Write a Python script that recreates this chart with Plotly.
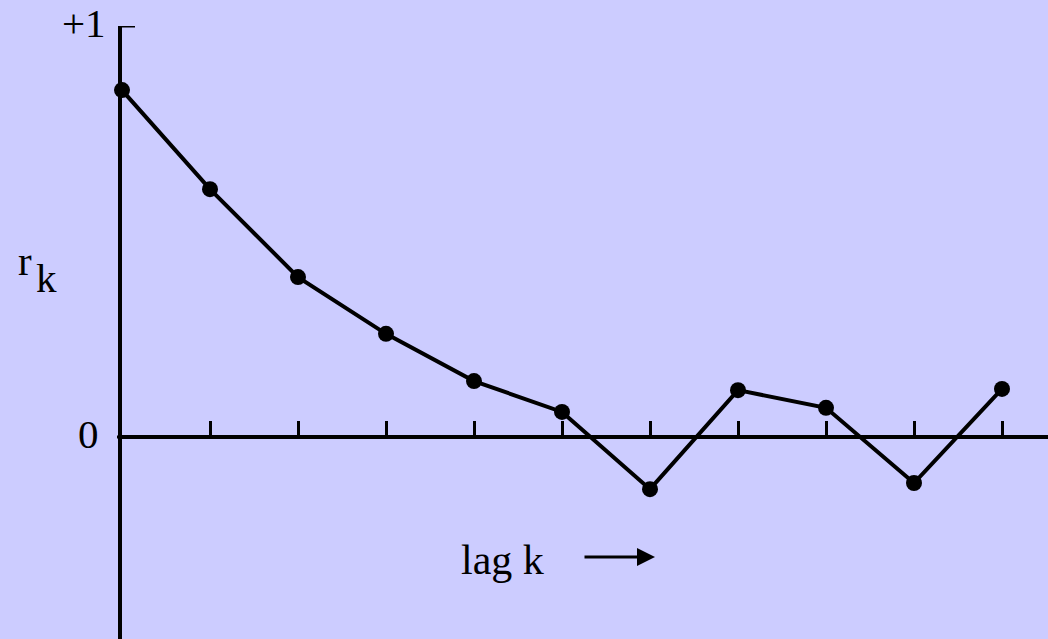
import plotly.graph_objects as go

lags = [0, 1, 2, 3, 4, 5, 6, 7, 8, 9, 10]
r_k = [0.844, 0.603, 0.389, 0.251, 0.136, 0.061, -0.127, 0.114, 0.071, -0.112, 0.117]
x_ticks = [1, 2, 3, 4, 5, 6, 7, 8, 9, 10]
y_ticks = [0, 1]
y_ticktext = ["0", "+1"]

W, H = 1048, 639
BG = "#ccccff"
FONT = "Liberation Serif, Times New Roman, serif"

fig = go.Figure()
fig.add_trace(go.Scatter(
    x=lags, y=r_k, mode="lines+markers",
    line=dict(color="black", width=4),
    marker=dict(color="black", size=16),
    cliponaxis=False, hoverinfo="skip", showlegend=False,
))

fig.update_layout(
    width=W, height=H,
    margin=dict(l=0, r=0, t=0, b=0),
    paper_bgcolor=BG, plot_bgcolor=BG,
    xaxis=dict(
        domain=[122 / W, 1], range=[0, (W - 122) / 88],
        anchor="free", position=(H - 437) / H,
        showline=True, linecolor="black", linewidth=4,
        ticks="inside", tickvals=x_ticks, ticklen=14, tickwidth=3, tickcolor="black",
        showticklabels=False, showgrid=False, zeroline=False,
    ),
    yaxis=dict(
        domain=[0, (H - 26) / H], range=[-(H - 437) / 411, 1],
        showline=True, linecolor="black", linewidth=4,
        ticks="inside", tickvals=[1], ticklen=13, tickwidth=3, tickcolor="black",
        showticklabels=False, showgrid=False, zeroline=False,
    ),
    font=dict(family=FONT, color="black", size=40),
)

# top (+1) tick, drawn explicitly so it is visible at the axis end
fig.add_shape(type="line", xref="paper", yref="y", x0=121 / W, x1=135 / W,
              y0=y_ticks[1], y1=y_ticks[1], line=dict(color="black", width=3))

# y tick labels
fig.add_annotation(x=108 / W, xref="paper", y=y_ticks[1], yref="y", text=y_ticktext[1],
                   showarrow=False, xanchor="right", yanchor="middle", yshift=3,
                   font=dict(family=FONT, size=41, color="black"))
fig.add_annotation(x=101 / W, xref="paper", y=y_ticks[0], yref="y", text=y_ticktext[0],
                   showarrow=False, xanchor="right", yanchor="middle", yshift=3,
                   font=dict(family=FONT, size=41, color="black"))
# small left tick at zero
fig.add_shape(type="line", xref="paper", yref="y", x0=117 / W, x1=122 / W, y0=0, y1=0,
              line=dict(color="black", width=3))

# r_k label
fig.add_annotation(x=16 / W, xref="paper", y=1 - 261 / H, yref="paper", text="r",
                   showarrow=False, xanchor="left", yanchor="middle",
                   font=dict(family=FONT, size=41, color="black"))
fig.add_annotation(x=34 / W, xref="paper", y=1 - 278 / H, yref="paper", text="k",
                   showarrow=False, xanchor="left", yanchor="middle",
                   font=dict(family=FONT, size=41, color="black"))

# lag k label and arrow
fig.add_annotation(x=459 / W, xref="paper", y=1 - 560 / H, yref="paper", text="lag k",
                   showarrow=False, xanchor="left", yanchor="middle",
                   font=dict(family=FONT, size=42, color="black"))
fig.add_annotation(x=655 / W, xref="paper", y=1 - 557 / H, yref="paper", text="",
                   ax=-72, ay=0, axref="pixel", ayref="pixel",
                   showarrow=True, arrowhead=2, arrowsize=1.2, arrowwidth=3, arrowcolor="black")

fig.write_html("out.html", config={"displayModeBar": False},
               post_script="document.body.style.margin='0';")
